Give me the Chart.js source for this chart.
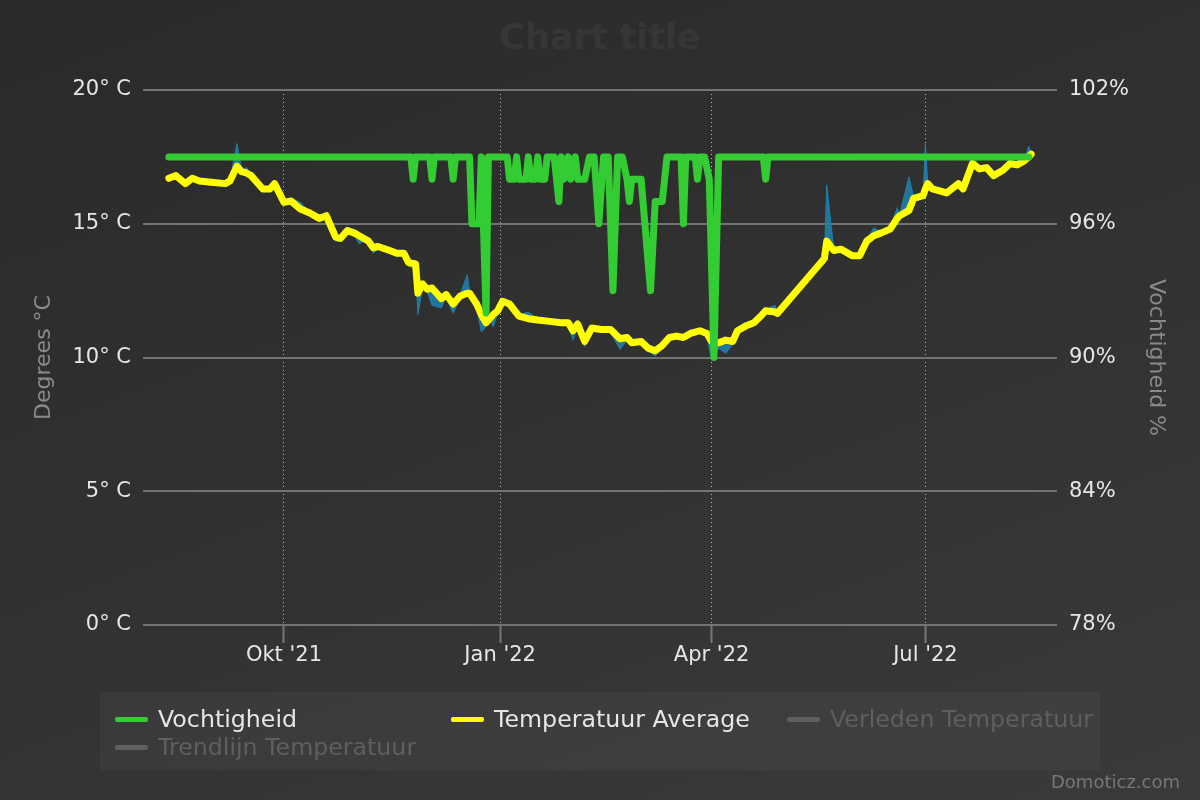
<!DOCTYPE html>
<html>
<head>
<meta charset="utf-8">
<script src="https://cdn.jsdelivr.net/npm/chart.js@4"></script>
<style>
  html, body { margin: 0; padding: 0; }
  body {
    width: 1200px; height: 800px; overflow: hidden;
    background: linear-gradient(160deg, #2a2a2a 0%, #313131 50%, #3a3a3a 100%);
    font-family: 'DejaVu Sans', sans-serif;
  }
  #wrap { position: relative; width: 1200px; height: 800px; }
  #chart { position: absolute; left: 0; top: 0; }
  .title { position: absolute; left: 0; width: 1200px; top: 17px; text-align: center;
    font-weight: bold; font-size: 35px; color: #363636; }
  .legend { position: absolute; left: 100px; top: 692px; width: 1000px; height: 78px;
    background: rgba(255,255,255,0.035); }
  .item { position: absolute; font-size: 23.7px; color: #e6e6e6; white-space: nowrap; line-height: 28px; }
  .item .sym { position: absolute; left: -43px; top: 12px; width: 33px; height: 5px; border-radius: 2px; }
  .item.off { color: #5f5f5f; }
  .credit { position: absolute; right: 20px; top: 771px; font-size: 18px; color: #777; }
</style>
</head>
<body>
<div id="wrap">
  <canvas id="chart" width="1200" height="800"></canvas>
  <div class="title">Chart title</div>
  <div class="legend">
    <div class="item" style="left:58px; top:13px;"><span class="sym" style="background:#33cc33"></span>Vochtigheid</div>
    <div class="item" style="left:394px; top:13px;"><span class="sym" style="background:#ffff00"></span>Temperatuur Average</div>
    <div class="item off" style="left:730px; top:13px;"><span class="sym" style="background:#5f5f5f"></span>Verleden Temperatuur</div>
    <div class="item off" style="left:58px; top:41px;"><span class="sym" style="background:#5f5f5f"></span>Trendlijn Temperatuur</div>
  </div>
  <div class="credit">Domoticz.com</div>
</div>
<script>
// days counted from 1 Aug 2021
const xTickDays = [61, 153, 243, 334];
const xTickLabels = ["Okt '21", "Jan '22", "Apr '22", "Jul '22"];

const tempDays = [12, 15, 19, 22, 25, 30, 36, 38, 41, 43, 45, 47, 52, 55, 57, 61, 64, 68, 72, 76, 79, 83, 85, 88, 91, 93, 95, 97, 99, 101,
  106, 109, 112, 114, 117, 118, 120, 122, 124, 128, 130, 133, 136, 139, 140, 143, 145, 147, 149, 150, 152, 154, 157, 161, 165, 169,
  174, 179, 182, 184, 186, 189, 192, 196, 200, 204, 207, 209, 213, 216, 219, 222, 225, 228, 231, 234, 238, 241, 243, 246, 249, 252,
  254, 258, 261, 264, 266, 270, 271, 291, 292, 295, 298, 303, 306, 309, 312, 315, 319, 322, 323, 327, 329, 333, 334, 335, 337, 343,
  348, 350, 354, 357, 360, 363, 367, 370, 373, 376, 378, 379];
const tempAvg = [16.7, 16.8, 16.5, 16.7, 16.6, 16.55, 16.5, 16.6, 17.15, 16.95, 16.9, 16.8, 16.3, 16.3, 16.5, 15.8, 15.85, 15.55, 15.4, 15.2, 15.3, 14.5, 14.45, 14.75, 14.65, 14.55, 14.45, 14.35, 14.1, 14.15,
  14.0, 13.9, 13.9, 13.55, 13.5, 12.4, 12.75, 12.55, 12.6, 12.2, 12.35, 12.0, 12.3, 12.4, 12.4, 12.0, 11.6, 11.3, 11.5, 11.6, 11.75, 12.1, 12.0, 11.55, 11.45, 11.4,
  11.35, 11.3, 11.3, 11.0, 11.25, 10.6, 11.1, 11.05, 11.05, 10.7, 10.75, 10.55, 10.6, 10.35, 10.25, 10.45, 10.75, 10.8, 10.75, 10.9, 11.0, 10.9, 10.6, 10.55, 10.65, 10.6,
  11.0, 11.2, 11.3, 11.55, 11.75, 11.7, 11.65, 13.7, 14.35, 14.0, 14.05, 13.8, 13.8, 14.35, 14.55, 14.65, 14.8, 15.2, 15.3, 15.5, 15.95, 16.05, 16.3, 16.5, 16.3, 16.15,
  16.5, 16.3, 17.25, 17.05, 17.1, 16.8, 17.0, 17.25, 17.2, 17.35, 17.5, 17.6];
const tempMin = [16.6, 16.7, 16.4, 16.6, 16.5, 16.45, 16.4, 16.5, 17.05, 16.85, 16.8, 16.7, 16.2, 16.2, 16.4, 15.7, 15.75, 15.45, 15.3, 15.1, 15.2, 14.35, 14.35, 14.65, 14.55, 14.25, 14.35, 14.25, 13.9, 14.05,
  13.9, 13.8, 13.8, 13.4, 13.35, 11.6, 12.6, 12.45, 11.95, 11.85, 12.25, 11.65, 12.2, 12.3, 12.3, 11.85, 10.95, 11.15, 11.35, 11.15, 11.65, 12.0, 11.9, 11.45, 11.35, 11.3,
  11.25, 11.2, 11.2, 10.65, 11.15, 10.4, 11.0, 10.95, 10.95, 10.3, 10.65, 10.45, 10.5, 10.25, 10.05, 10.35, 10.65, 10.7, 10.65, 10.8, 10.9, 10.8, 9.9, 10.35, 10.15, 10.5,
  10.9, 11.1, 11.2, 11.45, 11.65, 11.6, 11.55, 13.6, 14.25, 13.9, 13.95, 13.7, 13.7, 14.25, 14.45, 14.55, 14.7, 15.1, 15.2, 15.4, 15.85, 15.95, 16.2, 16.4, 16.2, 16.05,
  16.4, 16.2, 17.15, 16.95, 17.0, 16.7, 16.9, 17.15, 17.1, 17.25, 17.4, 17.5];
const tempMax = [16.75, 16.85, 16.55, 16.75, 16.65, 16.6, 16.55, 16.65, 18.0, 17.0, 17.1, 16.85, 16.35, 16.4, 16.6, 15.85, 15.95, 15.8, 15.45, 15.25, 15.35, 14.55, 14.5, 14.8, 14.7, 14.6, 14.5, 14.4, 14.15, 14.2,
  14.05, 13.95, 13.95, 13.6, 13.55, 12.45, 12.8, 12.6, 12.65, 12.25, 12.4, 12.05, 12.35, 13.1, 12.45, 12.05, 11.65, 11.35, 11.55, 11.65, 11.8, 12.15, 12.05, 11.6, 11.7, 11.45,
  11.4, 11.35, 11.35, 11.05, 11.3, 10.65, 11.15, 11.1, 11.1, 10.75, 10.8, 10.6, 10.65, 10.4, 10.3, 10.5, 10.8, 10.85, 10.8, 11.0, 11.05, 10.95, 10.65, 10.6, 10.7, 10.65,
  11.05, 11.25, 11.35, 11.6, 11.8, 11.95, 11.7, 13.75, 16.45, 14.05, 14.1, 13.85, 13.85, 14.4, 14.85, 14.7, 14.85, 15.6, 15.35, 16.75, 16.0, 16.1, 18.0, 16.55, 16.35, 16.2,
  16.55, 16.35, 17.6, 17.1, 17.15, 16.85, 17.05, 17.3, 17.25, 17.4, 17.9, 17.65];

const humDays = [12, 115, 116, 117, 123, 124, 125, 132, 133, 134, 140, 141, 144, 145, 147, 148, 156, 157, 159, 160, 161, 164, 165, 166, 168,
  169, 170, 172, 173, 176, 178, 179, 180, 182, 183, 185, 186, 189, 191, 193, 195, 197, 199, 201, 203, 205, 207, 208, 209, 213,
  217, 218, 219, 222, 224, 230, 231, 232, 236, 237, 238, 240, 242, 244, 246, 265, 266, 267, 378];
const humValues = [99, 99, 98, 99, 99, 98, 99, 99, 98, 99, 99, 96, 96, 99, 92, 99, 99, 98, 98, 99, 98, 98, 99, 98, 98,
  99, 98, 98, 99, 99, 97, 99, 98, 99, 98, 99, 98, 98, 99, 99, 96, 99, 99, 93, 99, 99, 98, 97, 98, 98,
  93, 95, 97, 97, 99, 99, 96, 99, 99, 98, 99, 99, 98, 90, 99, 99, 98, 99, 99];

const pts = (xs, ys) => xs.map((x, i) => ({ x: x, y: ys[i] }));
const FONT = 'DejaVu Sans';

new Chart(document.getElementById('chart'), {
  type: 'line',
  data: {
    datasets: [
      {
        label: 'Vochtigheid',
        data: pts(humDays, humValues),
        yAxisID: 'yHum',
        borderColor: '#33cc33',
        borderWidth: 7,
        borderJoinStyle: 'round',
        borderCapStyle: 'round',
        pointRadius: 0,
        tension: 0,
        fill: false
      },
      {
        label: 'Temperatuur Average',
        data: pts(tempDays, tempAvg),
        yAxisID: 'yTemp',
        borderColor: '#ffff00',
        borderWidth: 7,
        borderJoinStyle: 'round',
        borderCapStyle: 'round',
        pointRadius: 0,
        tension: 0,
        fill: false
      },
      {
        label: 'Temperatuur Max',
        data: pts(tempDays, tempMax),
        yAxisID: 'yTemp',
        borderColor: 'rgba(30,130,175,0.9)',
        borderWidth: 1,
        backgroundColor: 'rgba(30,130,175,0.85)',
        pointRadius: 0,
        tension: 0,
        fill: '+1'
      },
      {
        label: 'Temperatuur Min',
        data: pts(tempDays, tempMin),
        yAxisID: 'yTemp',
        borderColor: 'rgba(30,130,175,0.9)',
        borderWidth: 1,
        pointRadius: 0,
        tension: 0,
        fill: false
      }
    ]
  },
  options: {
    responsive: false,
    animation: false,
    devicePixelRatio: 1,
    layout: { padding: { top: 90, left: 0, right: 0, bottom: 0 } },
    plugins: { legend: { display: false }, tooltip: { enabled: false } },
    scales: {
      x: {
        type: 'linear',
        min: 1,
        max: 390,
        afterFit: s => { s.height = 175; },
        afterBuildTicks: s => { s.ticks = xTickDays.map(v => ({ value: v })); },
        ticks: {
          autoSkip: false,
          maxRotation: 0,
          padding: 0,
          color: '#e6e6e6',
          font: { family: FONT, size: 21 },
          callback: v => xTickLabels[xTickDays.indexOf(v)]
        },
        grid: {
          color: 'rgba(235,235,235,0.75)',
          lineWidth: 1,
          tickLength: 18,
          tickColor: '#777777',
          tickWidth: 2
        },
        border: { display: false, dash: [1, 3] }
      },
      yTemp: {
        position: 'left',
        min: 0,
        max: 20,
        afterFit: s => { s.width = 143; },
        ticks: {
          stepSize: 5,
          padding: 12,
          color: '#e6e6e6',
          font: { family: FONT, size: 21 },
          callback: v => v + '\u00b0 C'
        },
        grid: { color: '#737373', lineWidth: 2, drawTicks: false },
        border: { display: false },
        title: {
          display: true,
          text: 'Degrees \u00b0C',
          color: '#8a8a8a',
          font: { family: FONT, size: 22 },
          padding: { top: 31, bottom: 0 }
        }
      },
      yHum: {
        position: 'right',
        min: 78,
        max: 102,
        afterFit: s => { s.width = 143; },
        ticks: {
          stepSize: 6,
          padding: 12,
          color: '#e6e6e6',
          font: { family: FONT, size: 21 },
          callback: v => v + '%'
        },
        grid: { drawOnChartArea: false, drawTicks: false },
        border: { display: false },
        title: {
          display: true,
          text: 'Vochtigheid %',
          color: '#8a8a8a',
          font: { family: FONT, size: 22 },
          padding: { top: 31, bottom: 0 }
        }
      }
    }
  }
});
</script>
</body>
</html>
